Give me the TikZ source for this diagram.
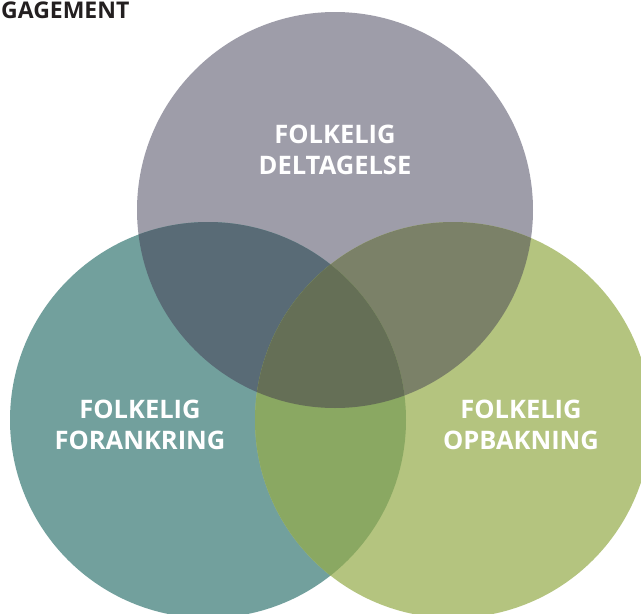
\documentclass[tikz,border=0pt]{standalone}
\usepackage{fontspec}
\setmainfont{Open Sans}
\definecolor{cTop}{RGB}{158,157,169}
\definecolor{cLeft}{RGB}{114,160,157}
\definecolor{cRight}{RGB}{180,196,127}
\definecolor{cTL}{RGB}{89,107,118}
\definecolor{cTR}{RGB}{123,129,104}
\definecolor{cLR}{RGB}{138,168,98}
\definecolor{cAll}{RGB}{101,111,86}
\definecolor{cDark}{RGB}{35,31,32}
\tikzset{
  lbl/.style={text=white, font=\bfseries\fontsize{25.5}{31}\selectfont, align=center, inner sep=0pt},
  ttl/.style={text=cDark, font=\bfseries\fontsize{23}{26}\selectfont, anchor=north west, inner sep=0pt}
}
\begin{document}
\begin{tikzpicture}[x=1pt,y=-1pt]
\useasboundingbox (0,0) rectangle (641,614);
\clip (0,0) rectangle (641,614);
\coordinate (T) at (335,210);
\coordinate (L) at (208,420);
\coordinate (R) at (453,420);
\def\rr{198}
\fill[cTop] (T) circle (\rr);
\fill[cLeft] (L) circle (\rr);
\fill[cRight] (R) circle (\rr);
\begin{scope}
  \clip (T) circle (\rr);
  \fill[cTL] (L) circle (\rr);
  \fill[cTR] (R) circle (\rr);
\end{scope}
\begin{scope}
  \clip (L) circle (\rr);
  \fill[cLR] (R) circle (\rr);
  \clip (R) circle (\rr);
  \fill[cAll] (T) circle (\rr);
\end{scope}
\node[lbl] (tlabel) at (335,150) {FOLKELIG\\DELTAGELSE};
\node[lbl] (llabel) at (140,425) {FOLKELIG\\FORANKRING};
\node[lbl] (rlabel) at (521,425) {FOLKELIG\\OPBAKNING};
\node[ttl] (title) at (1,2) {GAGEMENT};
\end{tikzpicture}
\end{document}
